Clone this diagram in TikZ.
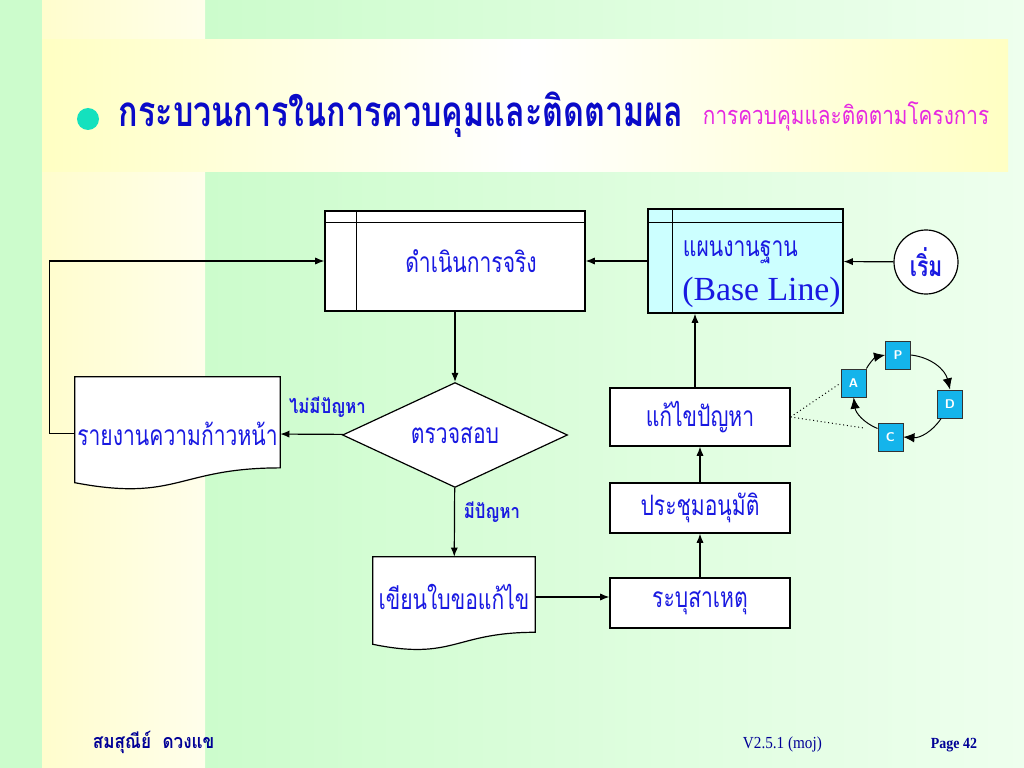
\documentclass[tikz,border=0pt]{standalone}
\usepackage{fontspec}
\usepackage{graphicx}
\setmainfont{Liberation Serif}
\newfontfamily\thai[Script=Thai]{Loma}
\usetikzlibrary{arrows, arrows.meta, positioning, shapes.geometric, calc}
\pgfdeclarelayer{back}
\pgfsetlayers{back,main}
\definecolor{ink}{RGB}{25,25,225}
\definecolor{headblue}{RGB}{10,10,200}
\definecolor{footblue}{RGB}{0,0,150}
\definecolor{pink}{RGB}{230,40,225}
\definecolor{turq}{RGB}{20,225,190}
\definecolor{basefill}{RGB}{204,255,255}
\definecolor{pdcafill}{RGB}{20,180,235}
\definecolor{bggreen}{RGB}{204,252,204}
\definecolor{bglight}{RGB}{238,255,238}
\definecolor{bgyellow}{RGB}{255,253,205}
\definecolor{bandyellow}{RGB}{255,255,195}
\newcommand{\squeeze}[2][0.75]{\scalebox{#1}[1]{#2}}
\tikzset{%
	box/.style={draw, line width=0.85pt, rectangle, fill=white, inner sep=0mm, text=ink,%
		font=\thai\fontsize{20}{24}\selectfont},
	proc/.style={box, minimum width=65mm, minimum height=25mm},
	stepbox/.style={box, minimum width=45mm},
	dec/.style={draw, line width=0.85pt, diamond, fill=white, inner sep=0mm, minimum width=56.25mm,%
		minimum height=22.5mm, text=ink, font=\thai\fontsize{20}{24}\selectfont},
	doc/.style={rectangle, inner sep=0mm, text=ink, font=\thai\fontsize{20}{24}\selectfont},
	outline/.style={draw, line width=0.85pt, fill=white},
	pdca/.style={draw=black!80, fill=pdcafill, minimum width=6.3mm, minimum height=7.1mm,%
		inner sep=0mm, text=white, font=\sffamily\bfseries\small},
	tag/.style={text=ink, font=\thai\bfseries\fontsize{14}{16}\selectfont},
	sel/.style={-{Latex[length=2.3mm,width=1.8mm]}, line width=0.85pt},
	cyc/.style={-{Latex[length=2.8mm,width=2.4mm]}, line width=0.7pt},
	dots/.style={dotted, line width=0.7pt}
}

\begin{document}
\begin{tikzpicture}
	\useasboundingbox (0,0) rectangle (25.6,-19.2);
	% title
	\fill[turq] (2.2,-2.975) circle (0.275);
	\node[anchor=base west, text=headblue, font=\thai\bfseries\fontsize{30}{32}\selectfont] (title) at (2.85,-3.175) {\squeeze[0.765]{กระบวนการในการควบคุมและติดตามผล}};
	\node[anchor=base west, text=pink, font=\thai\fontsize{18}{20}\selectfont] (subtitle) at (17.45,-3.125) {\squeeze[0.82]{การควบคุมและติดตามโครงการ}};

	% flow
	\node[proc] (ops) at (11.375,-6.525) {\hspace*{8mm}\squeeze{ดำเนินการจริง}};
	\node[proc, fill=basefill, minimum width=48.75mm, minimum height=26mm] (base) at (18.6375,-6.525) {};
	\node[anchor=west, text=ink, font=\thai\fontsize{20}{24}\selectfont] (basea) at (16.95,-6.3) {\squeeze{แผนงานฐาน}};
	\node[anchor=west, text=ink, font=\fontsize{24}{26}\selectfont, inner sep=0mm] (baseb) at (17.05,-7.3) {(Base Line)};
	\node[draw, line width=0.85pt, circle, fill=white, minimum size=16mm, inner sep=0mm, text=ink, font=\thai\bfseries\fontsize{20}{24}\selectfont] (start) at (23.15,-6.55) {\squeeze{เริ่ม}};
	\node[dec] (check) at (11.375,-10.875) {\squeeze{ตรวจสอบ}};
	\node[doc, minimum width=51.25mm, minimum height=28.25mm] (report) at (4.4375,-10.8375) {\squeeze{รายงานความก้าวหน้า}};
	\node[doc, minimum width=40.5mm, minimum height=20mm] (fix) at (11.35,-14.925) {\squeeze{เขียนใบขอแก้ไข}};
	\node[stepbox, minimum height=12.5mm] (cause) at (17.5,-15.075) {\squeeze{ระบุสาเหตุ}};
	\node[stepbox, minimum height=12.5mm] (meet) at (17.5,-12.7) {\squeeze{ประชุมอนุมัติ}};
	\node[stepbox, minimum height=14.5mm] (solve) at (17.5,-10.425) {\squeeze{แก้ไขปัญหา}};

	% background and document outlines
	\begin{pgfonlayer}{back}
		\fill[bggreen] (0,0) rectangle (25.6,-19.2);
		\shade[left color=bggreen, right color=bglight] (5.125,0) rectangle (25.6,-19.2);
		\shade[left color=bgyellow, right color=white!60!bgyellow] (1.05,0) rectangle (5.125,-19.2);
		\shade[left color=bandyellow, right color=bandyellow, middle color=white] (1.05,-1) rectangle (25.2,-4.3);
		\path[outline] (report.north west) -- (report.north east) -- ($(report.south east)+(0,0.56)$)
			.. controls ($(report.south)+(0,0.56)$) and ($(report.south)+(0,-0.3)$) .. ($(report.south west)+(0,0.19)$) -- cycle;
		\path[outline] (fix.north west) -- (fix.north east) -- ($(fix.south east)+(0,0.125)$)
			.. controls ($(fix.south)+(0,0.125)$) and ($(fix.south)+(0,-0.59)$) .. ($(fix.south west)+(0,-0.175)$) -- cycle;
	\end{pgfonlayer}
	\draw[line width=0.85pt] ($(ops.north west)+(0,-0.3)$) -- ($(ops.north east)+(0,-0.3)$);
	\draw[line width=0.85pt] ($(ops.north west)+(0.8,0)$) -- ($(ops.south west)+(0.8,0)$);
	\draw[line width=0.85pt] ($(base.north west)+(0,-0.35)$) -- ($(base.north east)+(0,-0.35)$);
	\draw[line width=0.85pt] ($(base.north west)+(0.62,0)$) -- ($(base.south west)+(0.62,0)$);

	\draw[sel] (start) -- (base);
	\draw[sel] (base) -- (ops);
	\draw[sel] (ops) -- (check);
	\draw[sel] (check) -- node[tag, above=3mm, pos=0.25] (nolabel) {\squeeze[0.85]{ไม่มีปัญหา}} (report);
	\draw[sel] (report.west) -- ++(-0.625,0) |- (ops.west);
	\draw[sel] (check) -- node[tag, right=1mm, pos=0.35] (yeslabel) {\squeeze[0.85]{มีปัญหา}} (fix);
	\draw[sel] (fix.east) -- (cause.west |- fix.east);
	\draw[sel] (cause) -- (meet);
	\draw[sel] (meet) -- (solve);
	\coordinate (up) at ($(solve.north)+(-0.125,0)$);
	\draw[sel] (up) -- (up |- base.south);

	% PDCA
	\node[pdca] (p) at (22.45,-8.875) {P};
	\node[pdca] (a) at (21.34,-9.575) {A};
	\node[pdca] (d) at (23.75,-10.1) {D};
	\node[pdca] (c) at (22.26,-10.925) {C};
	\coordinate (cend) at (21.6,-10.7);
	\draw[cyc] (a.north east) to[bend left=25] (p.west);
	\draw[cyc] (p.east) to[bend left=35] (d.north);
	\draw[cyc] ($(d.south west)+(0.1,0)$) to[bend left=30] (c.east);
	\draw[cyc] ($(c.north west)+(0,-0.15)$) to[bend left=30] (a.south);
	\draw[dots] (solve.east) -- (a.west);
	\draw[dots] (solve.east) -- (cend);

	% footer
	\node[anchor=base west, text=footblue, font=\thai\bfseries\fontsize{14}{16}\selectfont] (author) at (2.2,-18.7) {\squeeze[0.87]{สมสุณีย์ \ ดวงแข}};
	\node[anchor=base west, text=footblue, font=\fontsize{12}{14}\selectfont] (version) at (18.45,-18.7) {\squeeze[0.9]{V2.5.1 (moj)}};
	\node[anchor=base west, text=footblue, font=\bfseries\fontsize{11}{13}\selectfont] (page) at (23.15,-18.7) {\squeeze[0.9]{Page 42}};
\end{tikzpicture}
\end{document}
